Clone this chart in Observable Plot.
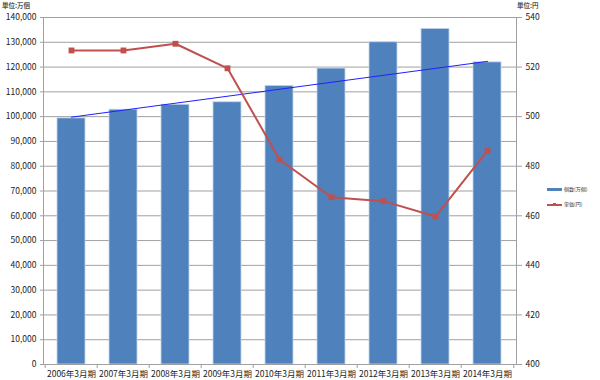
<!DOCTYPE html>
<html><head><meta charset="utf-8">
<script src="https://cdn.jsdelivr.net/npm/d3@7"></script>
<script src="https://cdn.jsdelivr.net/npm/@observablehq/plot@0.6"></script>
<style>
body{margin:0;background:#fff;}
#wrap{position:relative;width:600px;height:380px;font-family:"Noto Sans CJK JP","Noto Sans",sans-serif;overflow:hidden;}
.unit{position:absolute;font-size:6.5px;line-height:8px;color:#555;font-weight:bold;top:1px;white-space:nowrap;}
.leg{position:absolute;left:547px;height:8px;white-space:nowrap;font-size:5px;line-height:8px;color:#333;}
.sw{display:inline-block;vertical-align:middle;width:15px;position:relative;margin-right:2px;}
</style></head><body><div id="wrap"></div>
<script>
const periods = ["2006年3月期","2007年3月期","2008年3月期","2009年3月期","2010年3月期","2011年3月期","2012年3月期","2013年3月期","2014年3月期"];
const counts = [99300, 102800, 104800, 105800, 112400, 119400, 130000, 135400, 121900];
const prices = [526.7, 526.7, 529.4, 519.5, 482.7, 467.5, 465.9, 459.7, 486.3];
const trendPeriods = ["2006年3月期", "2014年3月期"];
const trendValues = [99800, 122300];
const countTicks = [0,10000,20000,30000,40000,50000,60000,70000,80000,90000,100000,110000,120000,130000,140000];
const priceTicks = [400,420,440,460,480,500,520,540];
const countUnit = "単位:万個";
const priceUnit = "単位:円";
const seriesNames = ["個数(万個)", "単価(円)"];

const countMax = 140000, priceMin = 400, priceMax = 540;
const toY = p => (p - priceMin) / (priceMax - priceMin) * countMax;
const fromY = y => y / countMax * (priceMax - priceMin) + priceMin;

const W = 600, H = 380, mL = 43, mR = 84, mT = 17, mB = 16;
const half = (W - mL - mR) / periods.length / 2;
const blue = "#4F81BD", red = "#C0504D";

const rows = periods.map((p, i) => ({period: p, count: counts[i], price: prices[i]}));
const trend = trendPeriods.map((p, i) => ({period: p, value: trendValues[i]}));

const chart = Plot.plot({
  width: W, height: H,
  marginLeft: mL, marginRight: mR, marginTop: mT, marginBottom: mB,
  style: {fontSize: "8.5px", fontFamily: "'Noto Sans CJK JP','Noto Sans',sans-serif", color: "#222", background: "#fff"},
  x: {domain: periods, paddingInner: 0.46, paddingOuter: 0.23, label: null},
  y: {domain: [0, countMax], label: null},
  marks: [
    Plot.gridY(countTicks, {stroke: "#a0a0a0", strokeOpacity: 1}),
    Plot.barY(rows, {x: "period", y: "count", fill: blue, stroke: "#c5d5ea", strokeWidth: 0.8}),
    Plot.frame({stroke: "#a0a0a0"}),
    Plot.line(trend, {x: "period", y: "value", stroke: "#2020ff", strokeWidth: 1}),
    Plot.line(rows, {x: "period", y: d => toY(d.price), stroke: red, strokeWidth: 2}),
    Plot.dot(rows, {x: "period", y: d => toY(d.price), symbol: "square", r: 3.3, fill: red, stroke: "none"}),
    Plot.ruleX(periods, {x: d => d, y1: 0, y2: 0, dx: -half, insetBottom: -4, stroke: "#a0a0a0"}),
    Plot.ruleX(periods.slice(-1), {x: d => d, y1: 0, y2: 0, dx: half, insetBottom: -4, stroke: "#a0a0a0"}),
    Plot.axisY(countTicks, {anchor: "left", tickSize: 3, tickPadding: 4, stroke: "#a0a0a0", fill: "#222", tickFormat: d3.format(","), label: null}),
    Plot.axisY(priceTicks.map(toY), {anchor: "right", tickSize: 5, tickPadding: 4, stroke: "#a0a0a0", fill: "#222", tickFormat: d => String(Math.round(fromY(d))), label: null}),
    Plot.axisX({tickSize: 0, tickPadding: 6, fill: "#222", label: null})
  ]
});

const wrap = document.getElementById("wrap");
wrap.appendChild(chart);

const u1 = document.createElement("div");
u1.className = "unit"; u1.style.left = "2px"; u1.textContent = countUnit;
const u2 = document.createElement("div");
u2.className = "unit"; u2.style.left = "517px"; u2.textContent = priceUnit;
wrap.appendChild(u1); wrap.appendChild(u2);

const l1 = document.createElement("div");
l1.className = "leg"; l1.style.top = "185px";
l1.innerHTML = `<span class="sw" style="height:3px;background:${blue}"></span>${seriesNames[0]}`;
const l2 = document.createElement("div");
l2.className = "leg"; l2.style.top = "200px";
l2.innerHTML = `<span class="sw" style="height:8px;"><span style="position:absolute;left:0;top:3px;width:15px;height:2px;background:${red}"></span><span style="position:absolute;left:6px;top:2.5px;width:3px;height:3px;background:${red}"></span></span>${seriesNames[1]}`;
wrap.appendChild(l1); wrap.appendChild(l2);
</script></body></html>
